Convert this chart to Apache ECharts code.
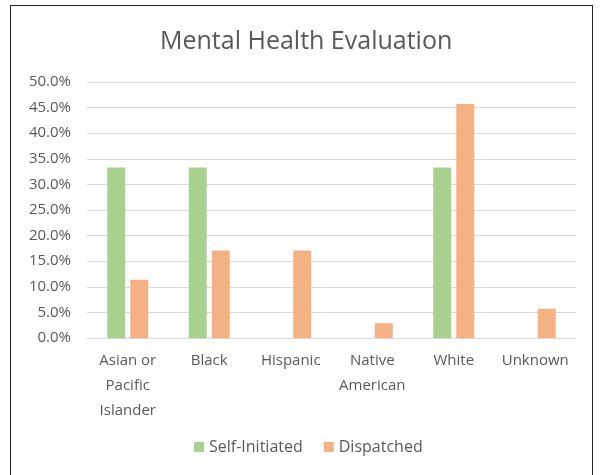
<!DOCTYPE html>
<html><head><meta charset="utf-8">
<script src="https://cdn.jsdelivr.net/npm/echarts@6/dist/echarts.min.js"></script>
<style>
html,body{margin:0;padding:0;background:#fff;}
#frame{position:absolute;left:10px;top:5px;width:583px;height:480px;border:1px solid #222;box-sizing:border-box;}
#c{position:absolute;left:0;top:0;width:600px;height:475px;}
</style></head><body>
<div id="frame"></div>
<div id="c"></div>
<script>
var categories = ['Asian or\nPacific\nIslander', 'Black', 'Hispanic', 'Native\nAmerican', 'White', 'Unknown'];
var selfInitiated = [33.3, 33.3, 0, 0, 33.3, 0];
var dispatched = [11.4, 17.1, 17.1, 2.9, 45.7, 5.7];
var seriesNames = ['Self-Initiated', 'Dispatched'];
var font = 'Open Sans';
var chart = echarts.init(document.getElementById('c'));
chart.setOption({
  animation: false,
  title: {text: 'Mental Health Evaluation', left: 155, top: 24,
    textStyle: {fontFamily: font, fontWeight: 'normal', fontSize: 25, color: '#595959'}},
  grid: {left: 87, right: 24, top: 82, bottom: 137},
  legend: {bottom: 15, left: 189, itemWidth: 10, itemHeight: 10, itemGap: 21,
    icon: 'rect', textStyle: {fontFamily: font, fontSize: 16, color: '#595959'},
    data: seriesNames},
  xAxis: {type: 'category', data: categories,
    axisLine: {show: true, lineStyle: {color: '#d9d9d9'}}, axisTick: {show: false},
    axisLabel: {fontFamily: font, fontSize: 15, color: '#595959', lineHeight: 25, margin: 10, interval: 0}},
  yAxis: {type: 'value', min: 0, max: 50, interval: 5,
    axisLabel: {fontFamily: font, fontSize: 15, color: '#595959', margin: 16,
      formatter: function(v){return v.toFixed(1) + '%';}},
    splitLine: {lineStyle: {color: '#d9d9d9', width: 1}},
    axisLine: {show: false}, axisTick: {show: false}},
  series: [
    {name: seriesNames[0], type: 'bar', data: selfInitiated, barWidth: 18, barGap: '28%',
      itemStyle: {color: '#a9d18e'}},
    {name: seriesNames[1], type: 'bar', data: dispatched, barWidth: 18,
      itemStyle: {color: '#f4b183'}}
  ]
});
</script>
</body></html>
